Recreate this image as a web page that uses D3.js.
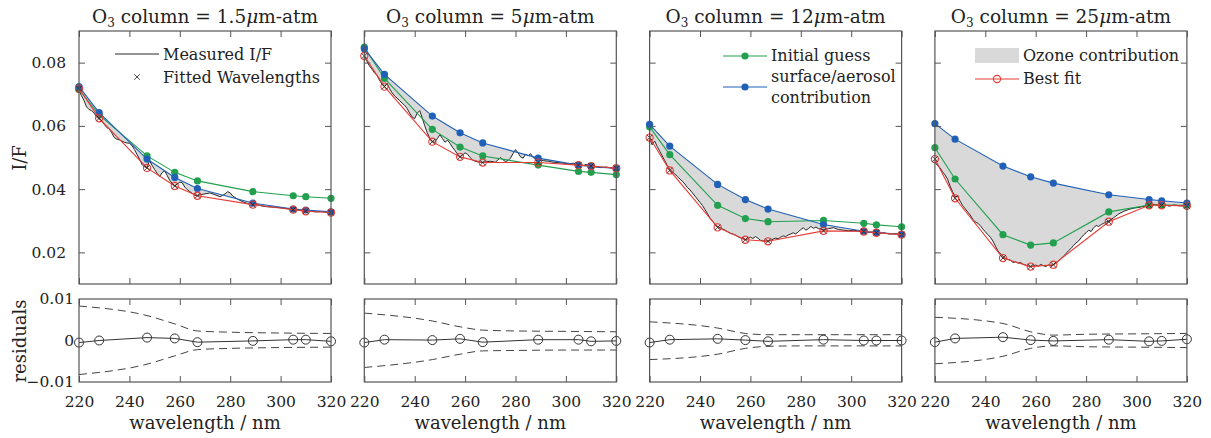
<!DOCTYPE html>
<html><head><meta charset="utf-8">
<script src="https://cdn.jsdelivr.net/npm/d3@7"></script>
<style>
body{margin:0;background:#fff;}
svg text{font-family:"DejaVu Serif","Liberation Serif","Times New Roman",Times,serif !important;fill:#222;}
</style></head>
<body><svg id="c" width="1211" height="438"></svg>
<script>
const titles = ["1.5", "5", "12", "25"];
const fitWl = [220, 228, 247, 258, 267, 289, 305, 310, 320];
const xTicks = [220, 240, 260, 280, 300, 320];
const yTicks = [0.02, 0.04, 0.06, 0.08];
const resTicks = [-0.01, 0, 0.01];

const green1 = [0.0715, 0.0635, 0.0505, 0.0453, 0.0426, 0.0392, 0.0379, 0.0376, 0.0371];
const blue1  = [0.0724, 0.0642, 0.0495, 0.0437, 0.0402, 0.0356, 0.0337, 0.0334, 0.0328];
const red1   = [0.0718, 0.0624, 0.0467, 0.0410, 0.0379, 0.0351, 0.0335, 0.0330, 0.0326];
const green2 = [0.0849, 0.0750, 0.0589, 0.0533, 0.0505, 0.0476, 0.0456, 0.0453, 0.0446];
const blue2  = [0.0844, 0.0763, 0.0631, 0.0578, 0.0546, 0.0498, 0.0476, 0.0472, 0.0465];
const red2   = [0.0821, 0.0724, 0.0550, 0.0502, 0.0484, 0.0484, 0.0476, 0.0473, 0.0466];
const green3 = [0.0597, 0.0509, 0.0349, 0.0307, 0.0297, 0.0301, 0.0292, 0.0287, 0.0281];
const blue3  = [0.0605, 0.0536, 0.0415, 0.0367, 0.0337, 0.0288, 0.0267, 0.0263, 0.0257];
const red3   = [0.0563, 0.0459, 0.0279, 0.0240, 0.0235, 0.0268, 0.0266, 0.0262, 0.0256];
const green4 = [0.0531, 0.0432, 0.0256, 0.0223, 0.0230, 0.0328, 0.0350, 0.0350, 0.0349];
const blue4  = [0.0607, 0.0558, 0.0473, 0.0439, 0.0419, 0.0382, 0.0367, 0.0363, 0.0356];
const red4   = [0.0495, 0.0371, 0.0182, 0.0155, 0.0161, 0.0297, 0.0349, 0.0349, 0.0347];

const measWl1 = [220,221,222,223,224,225,226,227,228,229,230,231,232,233,234,235,236,237,238,239,240,241,242,243,244,245,246,247,248,249,250,251,252,253,254,255,256,257,258,259,260,261,262,263,264,265,266,267,268,270,272,274,276,277,278,279,280,281,283,285,287,289,291,293,295,297,299,301,303,305,307,309,310,312,314,316,318,320];
const meas1 = [0.0712,0.0695,0.0680,0.0660,0.0652,0.0648,0.0640,0.0628,0.0622,0.0615,0.0605,0.0595,0.0590,0.0578,0.0563,0.0558,0.0556,0.0552,0.0548,0.0546,0.0545,0.0538,0.0525,0.0510,0.0495,0.0478,0.0470,0.0468,0.0490,0.0475,0.0462,0.0450,0.0440,0.0452,0.0458,0.0443,0.0428,0.0418,0.0410,0.0416,0.0422,0.0420,0.0406,0.0398,0.0392,0.0386,0.0380,0.0379,0.0382,0.0385,0.0388,0.0382,0.0376,0.0380,0.0385,0.0392,0.0388,0.0378,0.0368,0.0360,0.0354,0.0351,0.0350,0.0346,0.0344,0.0343,0.0342,0.0340,0.0338,0.0335,0.0334,0.0331,0.0330,0.0330,0.0328,0.0329,0.0327,0.0326];
const measWl2 = [220,221,222,223,224,225,226,227,228,229,230,231,232,233,234,235,236,237,238,239,240,241,242,243,244,245,246,247,248,249,250,251,252,253,254,255,256,257,258,259,260,261,262,263,264,265,266,267,268,270,272,273,274,275,276,277,278,279,280,281,282,283,284,285,286,287,289,291,293,295,297,299,301,303,305,307,308,310,312,314,316,318,320];
const meas2 = [0.0822,0.0805,0.0790,0.0780,0.0768,0.0760,0.0745,0.0732,0.0724,0.0735,0.0718,0.0705,0.0695,0.0688,0.0680,0.0672,0.0665,0.0655,0.0640,0.0628,0.0623,0.0640,0.0648,0.0625,0.0600,0.0578,0.0560,0.0550,0.0548,0.0560,0.0572,0.0560,0.0548,0.0555,0.0545,0.0532,0.0522,0.0510,0.0502,0.0508,0.0515,0.0510,0.0500,0.0492,0.0488,0.0486,0.0485,0.0484,0.0486,0.0488,0.0485,0.0492,0.0500,0.0493,0.0487,0.0490,0.0498,0.0512,0.0525,0.0515,0.0502,0.0498,0.0510,0.0505,0.0512,0.0500,0.0492,0.0490,0.0488,0.0485,0.0484,0.0482,0.0480,0.0482,0.0477,0.0475,0.0478,0.0473,0.0470,0.0468,0.0470,0.0467,0.0466];
const measWl3 = [220,221,222,223,224,225,226,227,228,229,230,231,232,233,234,235,236,237,238,239,240,241,242,243,244,245,246,247,248,249,250,251,252,253,254,255,256,257,258,259,260,261,262,263,264,265,266,267,268,269,270,271,272,273,274,275,276,277,278,279,280,281,282,283,284,285,286,287,289,291,293,295,297,299,301,303,305,307,309,310,311,313,315,317,320];
const meas3 = [0.0560,0.0540,0.0552,0.0535,0.0520,0.0505,0.0490,0.0475,0.0462,0.0455,0.0448,0.0440,0.0432,0.0425,0.0416,0.0405,0.0398,0.0388,0.0378,0.0368,0.0358,0.0348,0.0335,0.0322,0.0308,0.0298,0.0288,0.0280,0.0278,0.0274,0.0270,0.0265,0.0260,0.0258,0.0255,0.0250,0.0246,0.0243,0.0240,0.0243,0.0248,0.0244,0.0250,0.0245,0.0238,0.0236,0.0236,0.0235,0.0238,0.0242,0.0245,0.0243,0.0248,0.0252,0.0250,0.0255,0.0258,0.0262,0.0258,0.0265,0.0272,0.0278,0.0270,0.0275,0.0282,0.0276,0.0280,0.0275,0.0272,0.0275,0.0278,0.0272,0.0270,0.0268,0.0270,0.0266,0.0266,0.0263,0.0264,0.0262,0.0260,0.0262,0.0258,0.0259,0.0256];
const measWl4 = [220,221,222,223,224,225,226,227,228,229,230,231,232,233,234,235,236,237,238,239,240,241,242,243,244,245,246,247,248,249,250,251,252,253,254,255,256,257,258,259,260,261,262,263,264,265,266,267,268,269,270,271,272,273,274,275,276,277,278,279,280,281,282,283,284,285,286,287,288,289,291,293,295,297,299,301,303,305,307,309,310,311,313,315,317,320];
const meas4 = [0.0485,0.0475,0.0468,0.0455,0.0445,0.0432,0.0410,0.0392,0.0375,0.0378,0.0362,0.0348,0.0338,0.0328,0.0318,0.0305,0.0296,0.0292,0.0285,0.0274,0.0265,0.0256,0.0248,0.0236,0.0220,0.0205,0.0195,0.0188,0.0180,0.0178,0.0175,0.0168,0.0170,0.0166,0.0168,0.0162,0.0160,0.0156,0.0155,0.0157,0.0160,0.0156,0.0162,0.0158,0.0155,0.0160,0.0158,0.0161,0.0165,0.0172,0.0180,0.0188,0.0196,0.0205,0.0212,0.0222,0.0230,0.0236,0.0246,0.0255,0.0262,0.0270,0.0266,0.0278,0.0285,0.0282,0.0288,0.0292,0.0296,0.0299,0.0310,0.0322,0.0330,0.0336,0.0340,0.0342,0.0346,0.0349,0.0352,0.0348,0.0349,0.0351,0.0346,0.0350,0.0347,0.0347];

const res1 = [-0.0005, 0.0000, 0.0007, 0.0005, -0.0004, -0.0001, 0.0002, 0.0002, -0.0002];
const res2 = [-0.0005, 0.0002, 0.0001, 0.0004, -0.0004, 0.0002, 0.0002, -0.0002, -0.0001];
const res3 = [-0.0005, 0.0002, 0.0004, 0.0001, -0.0002, 0.0002, 0.0000, 0.0000, 0.0000];
const res4 = [-0.0004, 0.0005, 0.0008, 0.0001, -0.0001, 0.0002, -0.0002, -0.0001, 0.0003];
const errWl = [220, 247, 258, 267, 280, 300, 320];
const errUp1 = [0.0083, 0.0060, 0.0040, 0.0023, 0.0020, 0.0018, 0.0017];
const errLo1 = [-0.0082, -0.0057, -0.0037, -0.0022, -0.0019, -0.0017, -0.0016];
const errUp2 = [0.0066, 0.0047, 0.0033, 0.0025, 0.0023, 0.0022, 0.0021];
const errLo2 = [-0.0065, -0.0046, -0.0033, -0.0025, -0.0024, -0.0023, -0.0023];
const errUp3 = [0.0045, 0.0030, 0.0017, 0.0014, 0.0014, 0.0014, 0.0014];
const errLo3 = [-0.0046, -0.0033, -0.0019, -0.0014, -0.0013, -0.0013, -0.0013];
const errUp4 = [0.0056, 0.0041, 0.0021, 0.0013, 0.0015, 0.0016, 0.0017];
const errLo4 = [-0.0056, -0.0038, -0.0019, -0.0013, -0.0015, -0.0016, -0.0017];

const panels = [
  {green: green1, blue: blue1, red: red1, mw: measWl1, m: meas1, res: res1, up: errUp1, lo: errLo1},
  {green: green2, blue: blue2, red: red2, mw: measWl2, m: meas2, res: res2, up: errUp2, lo: errLo2},
  {green: green3, blue: blue3, red: red3, mw: measWl3, m: meas3, res: res3, up: errUp3, lo: errLo3},
  {green: green4, blue: blue4, red: red4, mw: measWl4, m: meas4, res: res4, up: errUp4, lo: errLo4}
];

const C_GREEN = "#22a04f", C_BLUE = "#2060b8", C_RED = "#e63a33", C_FILL = "#d9d9d9", C_AX = "#555";
const FONT = "'DejaVu Serif','Liberation Serif','Times New Roman',serif";
const svg = d3.select("#c");
const W = 252, X0 = 79, STEP = 285.3;
const TOP = 31, TOPB = 284, RT = 299, RB = 382;

panels.forEach((p, i) => {
  const x0 = X0 + i * STEP;
  const x = d3.scaleLinear().domain([220, 320]).range([x0, x0 + W]);
  const y = d3.scaleLinear().domain([0.01, 0.09]).range([TOPB, TOP]);
  const yr = d3.scaleLinear().domain([-0.01, 0.01]).range([RB, RT]);
  const g = svg.append("g");

  const t = g.append("text").attr("x", x0 + W / 2).attr("y", 23).attr("text-anchor", "middle").attr("font-size", 18.5);
  t.append("tspan").text("O");
  t.append("tspan").attr("font-size", 12).attr("dy", 4).text("3");
  t.append("tspan").attr("dy", -4).text(" column = " + titles[i]);
  t.append("tspan").attr("font-style", "italic").text("\u03bc");
  t.append("tspan").text("m-atm");

  const poly = fitWl.map((w, k) => [w, p.blue[k]]).concat(p.mw.map((w, k) => [w, p.m[k]]).reverse());
  g.append("path").attr("d", d3.line().x(d => x(d[0])).y(d => y(d[1]))(poly) + "Z").attr("fill", C_FILL);

  const line = d3.line().x(d => x(d[0])).y(d => y(d[1]));
  g.append("path").attr("d", line(p.mw.map((w, k) => [w, p.m[k]]))).attr("fill", "none").attr("stroke", "#111").attr("stroke-width", 0.9);
  const gpts = fitWl.map((w, k) => [w, p.green[k]]);
  g.append("path").attr("d", line(gpts)).attr("fill", "none").attr("stroke", C_GREEN).attr("stroke-width", 1.1);
  g.selectAll(null).data(gpts).join("circle").attr("cx", d => x(d[0])).attr("cy", d => y(d[1])).attr("r", 3.6).attr("fill", C_GREEN);
  const bpts = fitWl.map((w, k) => [w, p.blue[k]]);
  g.append("path").attr("d", line(bpts)).attr("fill", "none").attr("stroke", C_BLUE).attr("stroke-width", 1.1);
  g.selectAll(null).data(bpts).join("circle").attr("cx", d => x(d[0])).attr("cy", d => y(d[1])).attr("r", 3.6).attr("fill", C_BLUE);
  const rpts = fitWl.map((w, k) => [w, p.red[k]]);
  g.append("path").attr("d", line(rpts)).attr("fill", "none").attr("stroke", C_RED).attr("stroke-width", 1.1);
  g.selectAll(null).data(rpts).join("circle").attr("cx", d => x(d[0])).attr("cy", d => y(d[1])).attr("r", 3.6).attr("fill", "none").attr("stroke", C_RED).attr("stroke-width", 1.1);
  const cross = d3.symbol().type(d3.symbolX).size(22);
  g.selectAll(null).data(rpts).join("path").attr("d", cross).attr("transform", d => `translate(${x(d[0])},${y(d[1])})`).attr("fill", "none").attr("stroke", "#222").attr("stroke-width", 0.8);

  const axT = (sel, gen) => { sel.call(gen); sel.attr("font-family", FONT); sel.select(".domain").remove(); sel.selectAll("line").attr("stroke", C_AX); sel.selectAll("text").attr("font-size", 15.5).attr("fill", "#222"); };
  g.append("g").attr("transform", `translate(0,${TOPB})`).call(s => axT(s, d3.axisBottom(x).tickValues(xTicks).tickSize(-6).tickFormat("")));
  g.append("g").attr("transform", `translate(0,${TOP})`).call(s => axT(s, d3.axisTop(x).tickValues(xTicks).tickSize(-6).tickFormat("")));
  g.append("g").attr("transform", `translate(${x0},0)`).call(s => axT(s, d3.axisLeft(y).tickValues(yTicks).tickSize(-6).tickPadding(13).tickFormat(i === 0 ? d3.format(".2f") : "")));
  g.append("g").attr("transform", `translate(${x0 + W},0)`).call(s => axT(s, d3.axisRight(y).tickValues(yTicks).tickSize(-6).tickFormat("")));
  g.append("rect").attr("x", x0).attr("y", TOP).attr("width", W).attr("height", TOPB - TOP).attr("fill", "none").attr("stroke", C_AX).attr("stroke-width", 1.2);

  const dline = d3.line().x(d => x(d[0])).y(d => yr(d[1])).curve(d3.curveMonotoneX);
  g.append("path").attr("d", dline(errWl.map((w, k) => [w, p.up[k]]))).attr("fill", "none").attr("stroke", "#444").attr("stroke-width", 1).attr("stroke-dasharray", "8,5");
  g.append("path").attr("d", dline(errWl.map((w, k) => [w, p.lo[k]]))).attr("fill", "none").attr("stroke", "#444").attr("stroke-width", 1).attr("stroke-dasharray", "8,5");
  const rp = fitWl.map((w, k) => [w, p.res[k]]);
  g.append("path").attr("d", d3.line().x(d => x(d[0])).y(d => yr(d[1]))(rp)).attr("fill", "none").attr("stroke", "#333").attr("stroke-width", 1);
  g.selectAll(null).data(rp).join("circle").attr("cx", d => x(d[0])).attr("cy", d => yr(d[1])).attr("r", 4.5).attr("fill", "none").attr("stroke", "#333").attr("stroke-width", 1);

  g.append("g").attr("transform", `translate(0,${RB})`).call(s => axT(s, d3.axisBottom(x).tickValues(xTicks).tickSizeInner(-6).tickSizeOuter(0).tickPadding(14)));
  g.append("g").attr("transform", `translate(0,${RT})`).call(s => axT(s, d3.axisTop(x).tickValues(xTicks).tickSize(-6).tickFormat("")));
  if (i === 0) {
    g.append("g").attr("transform", `translate(${x0},0)`).call(s => axT(s, d3.axisLeft(yr).tickValues(resTicks).tickSize(0).tickPadding(5).tickFormat(d => d === 0 ? "0" : d3.format(".2f")(d))));
  }
  g.append("rect").attr("x", x0).attr("y", RT).attr("width", W).attr("height", RB - RT).attr("fill", "none").attr("stroke", C_AX).attr("stroke-width", 1.2);

  g.append("text").attr("x", x0 + W / 2).attr("y", 429).attr("text-anchor", "middle").attr("font-size", 18).text("wavelength / nm");
});

svg.append("text").attr("transform", "translate(26,158) rotate(-90)").attr("text-anchor", "middle").attr("font-size", 18).text("I/F");
svg.append("text").attr("transform", "translate(26,341) rotate(-90)").attr("text-anchor", "middle").attr("font-size", 18).text("residuals");

const lg = svg.append("g");
lg.append("line").attr("x1", 115).attr("x2", 159).attr("y1", 54).attr("y2", 54).attr("stroke", "#111").attr("stroke-width", 0.9);
lg.append("text").attr("x", 163).attr("y", 60).attr("font-size", 16).text("Measured I/F");
lg.append("path").attr("d", d3.symbol().type(d3.symbolX).size(22)).attr("transform", "translate(137,77)").attr("fill", "none").attr("stroke", "#222").attr("stroke-width", 0.8);
lg.append("text").attr("x", 163).attr("y", 83).attr("font-size", 16).text("Fitted Wavelengths");

lg.append("line").attr("x1", 723).attr("x2", 767).attr("y1", 56).attr("y2", 56).attr("stroke", C_GREEN).attr("stroke-width", 1.1);
lg.append("circle").attr("cx", 745).attr("cy", 56).attr("r", 3.6).attr("fill", C_GREEN);
lg.append("text").attr("x", 771).attr("y", 61).attr("font-size", 16).text("Initial guess");
lg.append("line").attr("x1", 723).attr("x2", 767).attr("y1", 87).attr("y2", 87).attr("stroke", C_BLUE).attr("stroke-width", 1.1);
lg.append("circle").attr("cx", 745).attr("cy", 87).attr("r", 3.6).attr("fill", C_BLUE);
lg.append("text").attr("x", 771).attr("y", 82).attr("font-size", 16).text("surface/aerosol");
lg.append("text").attr("x", 771).attr("y", 103).attr("font-size", 16).text("contribution");

lg.append("rect").attr("x", 975).attr("y", 48).attr("width", 44).attr("height", 15).attr("fill", C_FILL);
lg.append("text").attr("x", 1023).attr("y", 61).attr("font-size", 16).text("Ozone contribution");
lg.append("line").attr("x1", 975).attr("x2", 1019).attr("y1", 79).attr("y2", 79).attr("stroke", C_RED).attr("stroke-width", 1.1);
lg.append("circle").attr("cx", 997).attr("cy", 79).attr("r", 3.6).attr("fill", "none").attr("stroke", C_RED).attr("stroke-width", 1.1);
lg.append("text").attr("x", 1023).attr("y", 84).attr("font-size", 16).text("Best fit");
</script></body></html>
